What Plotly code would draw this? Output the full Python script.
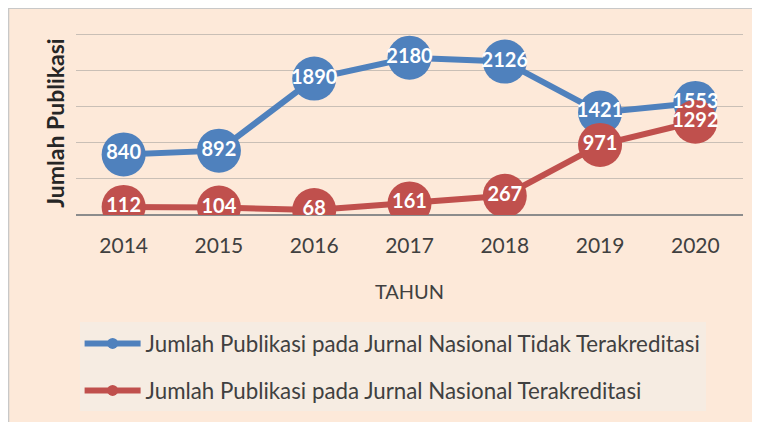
import plotly.graph_objects as go

tahun = ["2014", "2015", "2016", "2017", "2018", "2019", "2020"]
tidak_terakreditasi = [840, 892, 1890, 2180, 2126, 1421, 1553]
terakreditasi = [112, 104, 68, 161, 267, 971, 1292]

nama_tidak = "Jumlah Publikasi pada Jurnal Nasional Tidak Terakreditasi"
nama_akre = "Jumlah Publikasi pada Jurnal Nasional Terakreditasi"

biru = "#4F81BD"
merah = "#C0504D"
bg = "#FDE9D9"
font_name = "Lato"

fig = go.Figure()

# main series: lines + big circles
for y, c in [(tidak_terakreditasi, biru), (terakreditasi, merah)]:
    fig.add_trace(go.Scatter(x=tahun, y=y, mode="lines+markers",
                             line=dict(color=c, width=6),
                             marker=dict(size=44, color=c),
                             showlegend=False, hoverinfo="skip"))

# labels on top of every marker
for y in [tidak_terakreditasi, terakreditasi]:
    fig.add_trace(go.Scatter(x=tahun, y=y, mode="text", text=[str(v) for v in y],
                             textposition="middle center",
                             textfont=dict(family=font_name, size=20, color="white", weight="bold"),
                             showlegend=False, hoverinfo="skip"))

# legend entries with small markers
for nm, c, g in [(nama_tidak, biru, "a"), (nama_akre, merah, "b")]:
    fig.add_trace(go.Scatter(x=[None], y=[None], mode="lines+markers", name=nm,
                             line=dict(color=c, width=6), marker=dict(size=11, color=c),
                             legendgroup=g))

# the page body adds 8px, so the figure is laid out 8px up/left
off = 8
ymax = 2550
L, R, B = 76.4 - off, 742.6 - off, 215.5 - off
T = B - 180.5 * ymax / 2500
W, H = 760, 422
pw, ph = R - L, B - T

def px_x(x):
    return (x - off - L) / pw

def px_y(y):
    return (B - (y - off)) / ph

fig.add_shape(type="rect", xref="paper", yref="paper",
              x0=px_x(9), x1=px_x(790), y0=px_y(460), y1=px_y(8.7),
              fillcolor=bg, line=dict(color="#C8C8C8", width=1.5), layer="below")

fig.update_layout(
    width=W, height=H,
    margin=dict(l=L, r=W - R, t=T, b=H - B, autoexpand=False),
    paper_bgcolor="white", plot_bgcolor="rgba(0,0,0,0)",
    font=dict(family=font_name, color="#404040"),
    legend=dict(x=px_x(80), xanchor="left", y=px_y(323), yanchor="top",
                bgcolor="#F6ECE2", font=dict(size=22.3, color="#404040"),
                tracegroupgap=15, itemwidth=56),
    xaxis=dict(type="category", range=[-0.5, 6.5], showgrid=False, showline=False,
               zeroline=False, automargin=False,
               tickfont=dict(size=21, color="#404040"), ticklabelstandoff=16,
               title=dict(text="TAHUN", font=dict(size=20, color="#404040"), standoff=28)),
    yaxis=dict(range=[0, ymax], dtick=500, showticklabels=False, automargin=False,
               gridcolor="#C9BFB6", gridwidth=1.3, zeroline=True, zerolinecolor="#8C8C8C",
               zerolinewidth=1.5, showline=False,
               title=dict(text="<b>Jumlah Publikasi</b>", font=dict(size=23, color="#262626"),
                          standoff=3)),
)

fig.write_html("out.html")
